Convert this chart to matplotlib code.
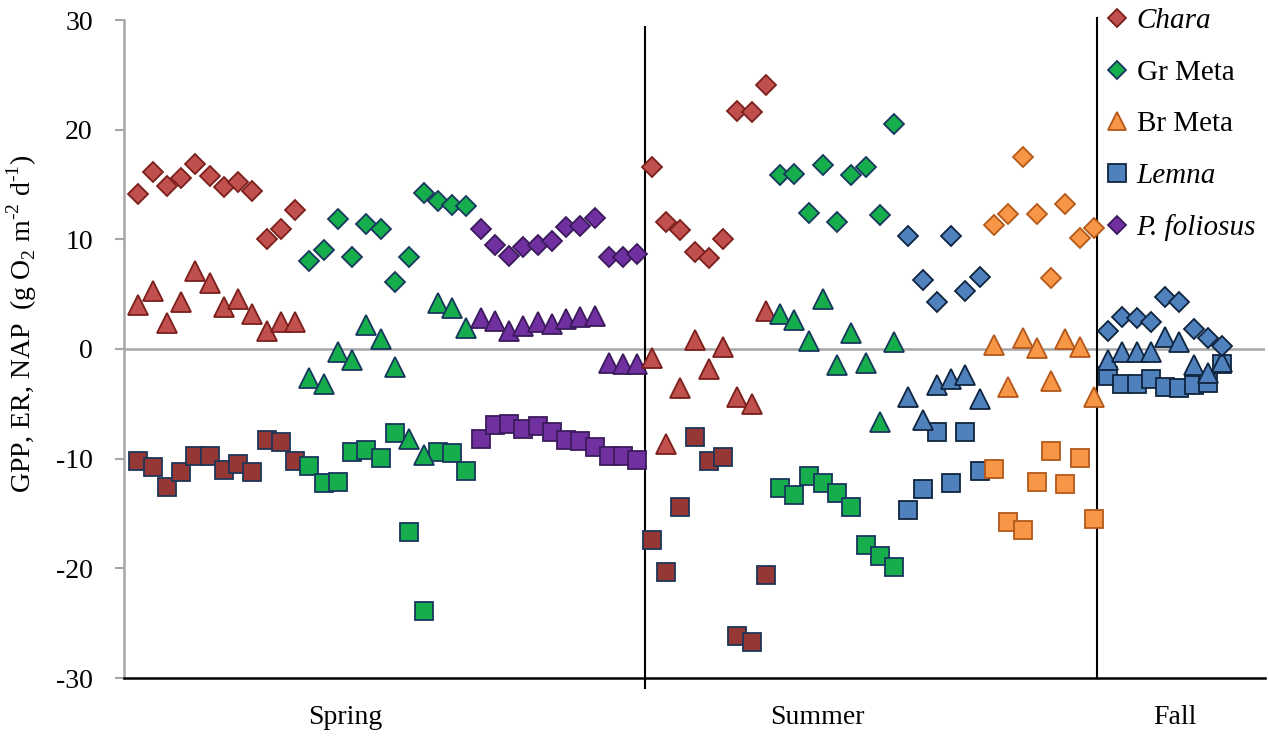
import matplotlib.pyplot as plt
import numpy as np

# values (g O2 m-2 d-1); diamonds = GPP, triangles = NAP, squares = ER
chara_gpp_spring = [14.1, 16.1, 14.9, 15.6, 16.9, 15.8, 14.8, 15.2, 14.4, 10.0, 10.9, 12.7]
chara_nap_spring = [4.0, 5.3, 2.4, 4.3, 7.1, 6.0, 3.8, 4.6, 3.2, 1.6, 2.5, 2.5]
chara_er_spring = [-10.2, -10.8, -12.6, -11.2, -9.8, -9.75, -11.0, -10.5, -11.2, -8.3, -8.5, -10.2]

grmeta_gpp_spring = [8.05, 9.0, 11.85, 8.4, 11.4, 10.9, 6.1, 8.4, 14.2, 13.5, 13.1, 13.0]
grmeta_nap_spring = [-2.65, -3.2, -0.3, -1.0, 2.15, 0.9, -1.6, -8.2, -9.7, 4.15, 3.7, 1.9]
grmeta_er_spring = [-10.7, -12.2, -12.1, -9.4, -9.2, -9.95, -7.7, -16.65, -23.9, -9.4, -9.5, -11.1]

pfol_gpp_spring = [10.9, 9.5, 8.5, 9.3, 9.5, 9.85, 11.1, 11.25, 11.9, 8.4, 8.35, 8.65]
pfol_nap_spring = [2.8, 2.55, 1.65, 2.1, 2.5, 2.25, 2.7, 2.95, 3.0, -1.3, -1.4, -1.4]
pfol_er_spring = [-8.2, -6.9, -6.8, -7.25, -7.0, -7.55, -8.3, -8.4, -8.95, -9.8, -9.75, -10.1]

chara_gpp_summer = [16.6, 11.6, 10.85, 8.8, 8.3, 10.05, 21.7, 21.6, 24.1]
chara_nap_summer = [-0.8, -8.7, -3.6, 0.8, -1.8, 0.2, -4.4, -5.0, 3.5]
chara_er_summer = [-17.4, -20.3, -14.4, -8.0, -10.2, -9.85, -26.2, -26.7, -20.6]

grmeta_gpp_summer = [15.9, 16.0, 12.4, 16.8, 11.6, 15.9, 16.6, 12.2, 20.5]
grmeta_nap_summer = [3.2, 2.6, 0.7, 4.6, -1.5, 1.5, -1.3, -6.7, 0.6]
grmeta_er_summer = [-12.7, -13.3, -11.6, -12.2, -13.1, -14.4, -17.9, -18.9, -19.9]

lemna_gpp_summer = [10.3, 6.3, 4.3, 10.3, 5.3, 6.6]
lemna_nap_summer = [-4.4, -6.5, -3.3, -2.7, -2.4, -4.6]
lemna_er_summer = [-14.7, -12.8, -7.6, -12.2, -7.6, -11.1]

brmeta_gpp_summer = [11.3, 12.3, 17.5, 12.3, 6.45, 13.25, 10.15, 11.05]
brmeta_nap_summer = [0.4, -3.5, 1.0, 0.1, -2.9, 0.9, 0.15, -4.4]
brmeta_er_summer = [-10.9, -15.8, -16.5, -12.1, -9.3, -12.3, -9.9, -15.5]

lemna_gpp_fall = [1.6, 2.9, 2.8, 2.5, 4.7, 4.3, 1.8, 1.0, 0.3]
lemna_nap_fall = [-1.0, -0.26, -0.26, -0.26, 1.05, 0.6, -1.5, -2.2, -1.2]
lemna_er_fall = [-2.5, -3.2, -3.2, -2.75, -3.5, -3.6, -3.25, -3.1, -1.4]

seasons = ['Spring', 'Summer', 'Fall']

# styles: (fill, edge) per species
styles = {
    'chara': ('#C0504D', '#7B1F1C'),
    'chara_er': ('#953735', '#1F3557'),
    'grmeta': ('#16AD4C', '#17375E'),
    'brmeta': ('#F79646', '#B4581A'),
    'lemna': ('#4F81BD', '#0F243E'),
    'pfol': ('#7030A0', '#3B1A5C'),
}

groups = [
    ('chara', chara_gpp_spring, chara_nap_spring, chara_er_spring),
    ('grmeta', grmeta_gpp_spring, grmeta_nap_spring, grmeta_er_spring),
    ('pfol', pfol_gpp_spring, pfol_nap_spring, pfol_er_spring),
    ('chara', chara_gpp_summer, chara_nap_summer, chara_er_summer),
    ('grmeta', grmeta_gpp_summer, grmeta_nap_summer, grmeta_er_summer),
    ('lemna', lemna_gpp_summer, lemna_nap_summer, lemna_er_summer),
    ('brmeta', brmeta_gpp_summer, brmeta_nap_summer, brmeta_er_summer),
    ('lemna', lemna_gpp_fall, lemna_nap_fall, lemna_er_fall),
]

plt.rcParams['font.family'] = 'Liberation Serif'
plt.rcParams['mathtext.fontset'] = 'custom'
plt.rcParams['mathtext.rm'] = 'Liberation Serif'
plt.rcParams['axes.unicode_minus'] = False

fig = plt.figure(figsize=(12.69, 7.40), dpi=100)
ax = fig.add_axes([124 / 1269, 1 - 678 / 740, 1141 / 1269, 658 / 740])

ms_d, ms_t, ms_s = 9.8, 13.8, 13.4
start = 1
for name, gpp, nap, er in groups:
    x = np.arange(start, start + len(gpp))
    start += len(gpp)
    fc, ec = styles[name]
    sfc, sec = styles['chara_er'] if name == 'chara' else styles[name]
    if name in ('grmeta', 'lemna'):
        sec = ec
    ax.plot(x, er, 's', ms=ms_s, mfc=sfc, mec=sec, mew=1.3, zorder=3)
    ax.plot(x, nap, '^', ms=ms_t, mfc=fc, mec=ec, mew=1.3, zorder=3)
    ax.plot(x, gpp, 'D', ms=ms_d, mfc=fc, mec=ec, mew=1.3, zorder=3)

ax.set_xlim(0, 80)
ax.set_ylim(-30, 30)
ax.set_yticks(np.arange(-30, 31, 10))
ax.set_xticks([])
ax.axhline(0, color='#A6A6A6', lw=1.8, zorder=1)

# season separators
ax.plot([36.5, 36.5], [-30.9, 29.35], color='black', lw=1.5, clip_on=False, zorder=2)
ax.plot([68.2, 68.2], [-30, 30.2], color='black', lw=1.5, clip_on=False, zorder=2)

for label, xc in zip(seasons, [15.5, 48.6, 73.7]):
    ax.text(xc, -33.6, label, ha='center', va='center', fontsize=20)

for side in ['top', 'right']:
    ax.spines[side].set_visible(False)
ax.spines['left'].set_color('#A6A6A6')
ax.spines['left'].set_linewidth(1.8)
ax.spines['bottom'].set_color('black')
ax.spines['bottom'].set_linewidth(1.8)
ax.tick_params(axis='y', length=6.5, width=1.5, color='#A6A6A6', pad=16, labelsize=20)

fig.text(22 / 1269, 1 - 324 / 740, r'GPP, ER, NAP  (g O$_2$ m$^{\text{-}2}$ d$^{\text{-}1}$)',
         rotation=90, ha='center', va='center', fontsize=20)

handles = [
    plt.Line2D([], [], ls='', marker='D', ms=9.2, mfc=styles['chara'][0], mec=styles['chara'][1], mew=1.3),
    plt.Line2D([], [], ls='', marker='D', ms=9.2, mfc=styles['grmeta'][0], mec=styles['grmeta'][1], mew=1.3),
    plt.Line2D([], [], ls='', marker='^', ms=13, mfc=styles['brmeta'][0], mec=styles['brmeta'][1], mew=1.3),
    plt.Line2D([], [], ls='', marker='s', ms=12.5, mfc=styles['lemna'][0], mec=styles['lemna'][1], mew=1.3),
    plt.Line2D([], [], ls='', marker='D', ms=9.2, mfc=styles['pfol'][0], mec=styles['pfol'][1], mew=1.3),
]
labels = ['Chara', 'Gr Meta', 'Br Meta', 'Lemna', 'P. foliosus']
leg = fig.legend(handles, labels, loc='upper left', bbox_to_anchor=(1106 / 1269, 1 - 8 / 740),
                 frameon=False, fontsize=21, handlelength=0.75, handletextpad=0.3,
                 labelspacing=0.86, borderpad=0, borderaxespad=0, numpoints=1)
for t, lab in zip(leg.get_texts(), labels):
    if lab in ('Chara', 'Lemna', 'P. foliosus'):
        t.set_style('italic')

fig.savefig('out.png', dpi=100)
